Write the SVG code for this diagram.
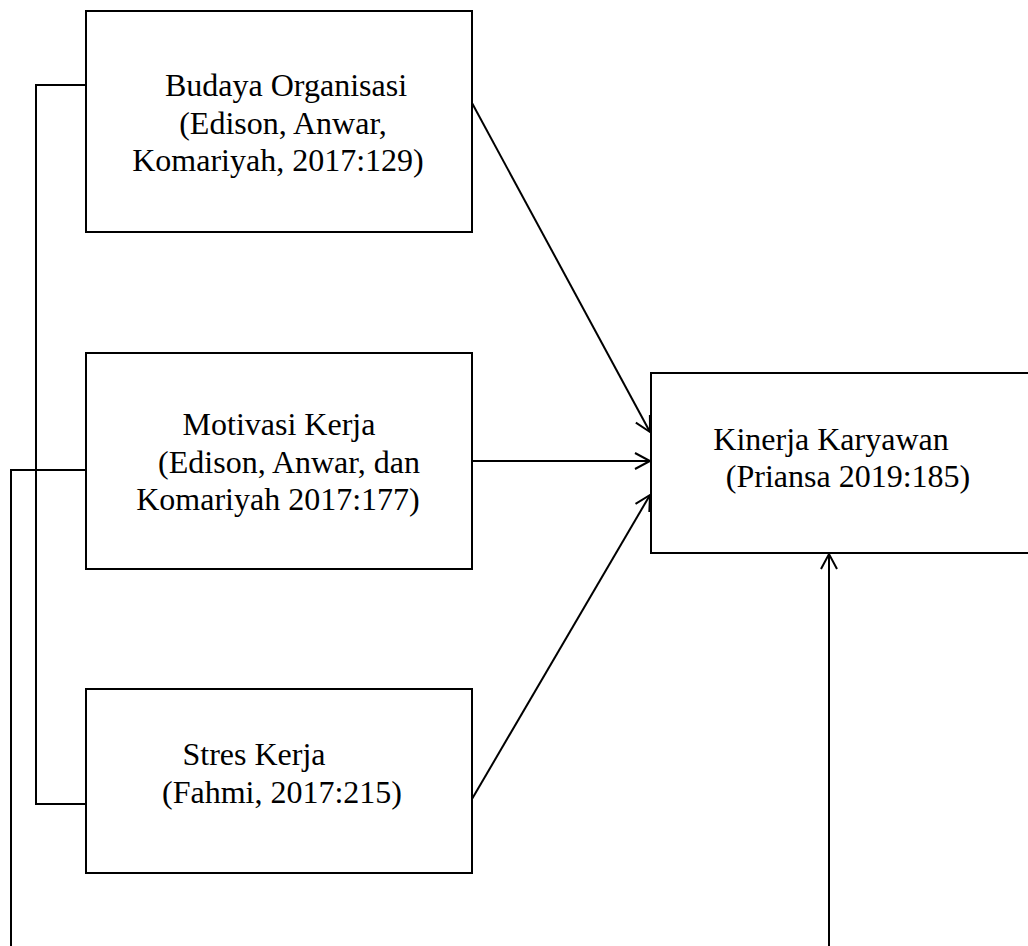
<svg xmlns="http://www.w3.org/2000/svg" width="1028" height="946" viewBox="0 0 1028 946">
<style>
.box{fill:#fff;stroke:#000;stroke-width:2}
.t{font-family:"Liberation Serif","Times New Roman",serif;font-size:32px;fill:#000;text-anchor:middle}
.ln{fill:none;stroke:#000;stroke-width:2}
</style>
<defs>
<marker id="ah" markerUnits="userSpaceOnUse" markerWidth="20" markerHeight="20" viewBox="-17 -10 20 20" refX="0" refY="0" orient="auto">
<path d="M-15,-8 L0,0 L-15,8" fill="none" stroke="#000" stroke-width="2"/>
</marker>
</defs>
<rect width="1028" height="946" fill="#fff"/>
<g id="connectors">
<polyline class="ln" points="86,85 36,85 36,804 86,804"/>
<polyline class="ln" points="86,470 11,470 11,946"/>
<line class="ln" x1="472" y1="103" x2="650" y2="432" marker-end="url(#ah)"/>
<line class="ln" x1="472" y1="461" x2="650" y2="461" marker-end="url(#ah)"/>
<line class="ln" x1="472" y1="799" x2="650" y2="495" marker-end="url(#ah)"/>
<line class="ln" x1="829" y1="946" x2="829" y2="554" marker-end="url(#ah)"/>
</g>
<g id="budaya">
<rect class="box" x="86" y="11" width="386" height="221"/>
<text class="t" x="286" y="96">Budaya Organisasi</text>
<text class="t" x="283" y="134">(Edison, Anwar,</text>
<text class="t" x="278" y="171">Komariyah, 2017:129)</text>
</g>
<g id="motivasi">
<rect class="box" x="86" y="353" width="386" height="216"/>
<text class="t" x="279" y="435">Motivasi Kerja</text>
<text class="t" x="289" y="473">(Edison, Anwar, dan</text>
<text class="t" x="278" y="510">Komariyah 2017:177)</text>
</g>
<g id="stres">
<rect class="box" x="86" y="689" width="386" height="184"/>
<text class="t" x="254" y="765">Stres Kerja</text>
<text class="t" x="282" y="803">(Fahmi, 2017:215)</text>
</g>
<g id="kinerja">
<rect class="box" x="651" y="373" width="400" height="180"/>
<text class="t" x="831" y="450">Kinerja Karyawan</text>
<text class="t" x="848" y="487">(Priansa 2019:185)</text>
</g>
</svg>
